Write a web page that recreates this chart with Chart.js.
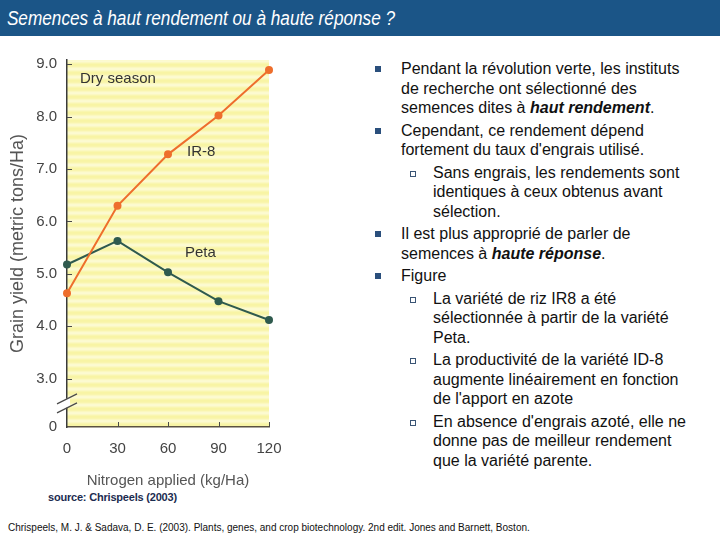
<!DOCTYPE html>
<html>
<head>
<meta charset="utf-8">
<script src="https://cdn.jsdelivr.net/npm/chart.js@4.4.1/dist/chart.umd.min.js"></script>
<style>
body{margin:0;width:720px;height:540px;overflow:hidden;background:#fff;position:relative;font-family:"Liberation Sans",Arial,sans-serif}
#bar{position:absolute;left:0;top:0;width:720px;height:36px;background:#1b5587}
#bar h1{margin:0;padding-left:8px;font-size:20px;line-height:36px;font-weight:normal;font-style:italic;color:#fff;transform:scaleX(0.86);transform-origin:0 50%;white-space:nowrap}
#wrap{position:absolute;left:0;top:40px;width:300px;height:450px}
#notes{position:absolute;left:401px;top:59px;width:315px;font-size:16px;line-height:19.5px;color:#111}
.it{position:relative;margin-bottom:3px;white-space:nowrap}
.it::before{content:"";position:absolute;left:-26px;top:7px;width:6px;height:6px;background:#2a4f7c}
.sub{margin-left:32px}
.sub::before{left:-23px;top:8px;width:4px;height:4px;background:#fff;border:1px solid #3a5575}
#src{position:absolute;left:48px;top:491px;font-size:11px;font-weight:bold;color:#1c2c50;letter-spacing:-0.2px}
#ref{position:absolute;left:8px;top:522px;font-size:10px;color:#111}
</style>
</head>
<body>
<div id="bar"><h1>Semences à haut rendement ou à haute réponse ?</h1></div>
<div id="wrap"><canvas id="yieldChart"></canvas></div>
<div id="notes">
<div class="it">Pendant la révolution verte, les instituts<br>de recherche ont sélectionné des<br>semences dites à <b><i>haut rendement</i></b>.</div>
<div class="it">Cependant, ce rendement dépend<br>fortement du taux d'engrais utilisé.</div>
<div class="it sub">Sans engrais, les rendements sont<br>identiques à ceux obtenus avant<br>sélection.</div>
<div class="it">Il est plus approprié de parler de<br>semences à <b><i>haute réponse</i></b>.</div>
<div class="it">Figure</div>
<div class="it sub">La variété de riz IR8 a été<br>sélectionnée à partir de la variété<br>Peta.</div>
<div class="it sub">La productivité de la variété ID-8<br>augmente linéairement en fonction<br>de l'apport en azote</div>
<div class="it sub">En absence d'engrais azoté, elle ne<br>donne pas de meilleur rendement<br>que la variété parente.</div>
</div>
<div id="src">source: Chrispeels (2003)</div>
<div id="ref">Chrispeels, M. J. &amp; Sadava, D. E. (2003). Plants, genes, and crop biotechnology. 2nd edit. Jones and Barnett, Boston.</div>
<script>
const nitrogen = [0, 30, 60, 90, 120]
const ir8Yield = [4.63, 6.30, 7.28, 8.02, 8.89]
const petaYield = [5.18, 5.63, 5.03, 4.48, 4.12]
const yTicks = [3, 4, 5, 6, 7, 8, 9]
const xTicks = [0, 30, 60, 90, 120]
const breakBase = 2.08   // value drawn as "0" below the axis break

const axisFont = {family: "Liberation Sans", size: 15}
const stripeRows = ["#f8f4a4", "#f8f4a6", "#f9f5ae", "#fbf8c0", "#fcfacf", "#fcfad1", "#fbf8c2", "#f9f6b0"]

function makeStripes(ctx){
  const tile = document.createElement("canvas")
  tile.width = 4
  tile.height = stripeRows.length
  const t = tile.getContext("2d")
  stripeRows.forEach((c, i) => {
    t.fillStyle = c
    t.fillRect(0, i, 4, 1)
  })
  return ctx.createPattern(tile, "repeat")
}

const decorations = {
  id: "decorations",
  beforeDraw(chart){
    const {ctx, chartArea: a} = chart
    ctx.save()
    ctx.fillStyle = makeStripes(ctx)
    ctx.fillRect(a.left, a.top, a.right - a.left, a.bottom - a.top)
    ctx.restore()
  },
  afterDraw(chart){
    const {ctx, chartArea: a, scales} = chart
    ctx.save()
    // small tick marks pointing into the plot
    ctx.strokeStyle = "#4a4a4a"
    ctx.lineWidth = 1
    ctx.beginPath()
    xTicks.slice(1).forEach(v => {
      const px = Math.round(scales.x.getPixelForValue(v)) + 0.5
      ctx.moveTo(px, a.bottom)
      ctx.lineTo(px, a.bottom - 5)
    })
    yTicks.forEach(v => {
      const py = Math.round(scales.y.getPixelForValue(v)) + 0.5
      ctx.moveTo(a.left, py)
      ctx.lineTo(a.left + 5, py)
    })
    ctx.stroke()

    // axis break
    const yb = scales.y.getPixelForValue((breakBase + 3) / 2)
    ctx.fillStyle = "#ffffff"
    ctx.beginPath()
    ctx.moveTo(a.left - 3, yb - 3)
    ctx.lineTo(a.left + 3, yb - 6)
    ctx.lineTo(a.left + 3, yb + 3)
    ctx.lineTo(a.left - 3, yb + 6)
    ctx.closePath()
    ctx.fill()
    ctx.strokeStyle = "#4a4a4a"
    ctx.lineWidth = 1.2
    ctx.beginPath()
    ctx.moveTo(a.left - 10, yb + 1)
    ctx.lineTo(a.left + 10, yb - 9)
    ctx.moveTo(a.left - 10, yb + 10)
    ctx.lineTo(a.left + 10, yb)
    ctx.stroke()

    // series labels
    ctx.fillStyle = "#333"
    ctx.font = "15px 'Liberation Sans'"
    ctx.textBaseline = "middle"
    ctx.fillText("Dry season", a.left + 13, a.top + 19)
    ctx.fillText("IR-8", a.left + 120, a.top + 92)
    ctx.fillText("Peta", a.left + 118, a.top + 193)
    ctx.restore()
  }
}

new Chart(document.getElementById("yieldChart"), {
  type: "line",
  data: {
    datasets: [{
      label: "IR-8",
      data: nitrogen.map((n, i) => ({x: n, y: ir8Yield[i]})),
      borderColor: "#ee6e2c",
      backgroundColor: "#ee6e2c",
      borderWidth: 2,
      pointRadius: 4,
      pointBorderWidth: 0,
      clip: false
    }, {
      label: "Peta",
      data: nitrogen.map((n, i) => ({x: n, y: petaYield[i]})),
      borderColor: "#2f5a4e",
      backgroundColor: "#2f5a4e",
      borderWidth: 2,
      pointRadius: 4,
      pointBorderWidth: 0,
      clip: false
    }]
  },
  options: {
    responsive: true,
    maintainAspectRatio: false,
    animation: false,
    layout: {padding: {top: 20, right: 31, bottom: 0, left: 0}},
    plugins: {legend: {display: false}, tooltip: {enabled: false}},
    scales: {
      x: {
        type: "linear",
        min: 0,
        max: 120,
        afterBuildTicks: s => { s.ticks = xTicks.map(v => ({value: v})) },
        afterFit: s => { s.height = 63 },
        ticks: {color: "#444", font: axisFont, padding: 13, maxRotation: 0},
        grid: {display: false, drawTicks: false},
        border: {color: "#5b5241", width: 1.5},
        title: {display: true, text: "Nitrogen applied (kg/Ha)", color: "#555", font: axisFont, padding: {top: 6, bottom: 0}}
      },
      y: {
        type: "linear",
        min: breakBase,
        max: 9.08,
        afterBuildTicks: s => { s.ticks = [breakBase, ...yTicks].map(v => ({value: v})) },
        afterFit: s => { s.width = 67 },
        ticks: {
          color: "#444",
          font: axisFont,
          padding: 10,
          callback: v => v === breakBase ? "0" : v.toFixed(1)
        },
        grid: {display: false, drawTicks: false},
        border: {color: "#3a3a3a", width: 1.5},
        title: {display: true, text: "Grain yield (metric tons/Ha)", color: "#555", font: {family: "Liberation Sans", size: 18}, padding: {top: 7, bottom: 0}}
      }
    }
  },
  plugins: [decorations]
})
</script>
</body>
</html>
